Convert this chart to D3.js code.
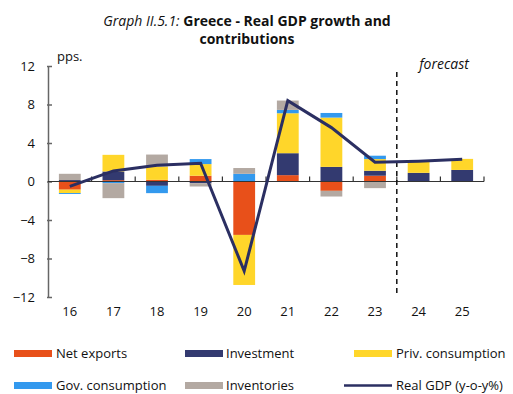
<!DOCTYPE html>
<html>
<head>
<meta charset="utf-8">
<script src="https://cdn.jsdelivr.net/npm/d3@7"></script>
<style>
  html, body { margin: 0; padding: 0; background: #fff; }
  svg { display: block; font-family: "Open Sans", sans-serif; }
</style>
</head>
<body>
<svg id="chart" width="513" height="394"></svg>
<script>
const years = ["16","17","18","19","20","21","22","23","24","25"];
const netExports  = [-0.85, 0.14, 0.17, 0.60, -5.55, 0.66, -0.97, 0.60, 0.00, 0.00];
const investment  = [ 0.15, 0.90, -0.45, -0.17, 0.00, 2.28, 1.52, 0.52, 0.90, 1.20];
const privCons    = [-0.35, 1.73, 1.38, 1.21, -5.20, 4.15, 5.12, 1.21, 1.15, 1.15];
const govCons     = [-0.10, -0.17, -0.76, 0.52, 0.80, 0.35, 0.48, 0.35, 0.00, 0.00];
const inventories = [ 0.65, -1.56, 1.25, -0.35, 0.60, 0.97, -0.59, -0.69, 0.00, 0.00];
const realGDP     = [-0.5, 1.1, 1.7, 1.9, -9.3, 8.4, 5.6, 2.0, 2.1, 2.3];
const yTicks = [-12, -8, -4, 0, 4, 8, 12];

const seriesKeys = ["Net exports","Investment","Priv. consumption","Gov. consumption","Inventories"];
const seriesVals = [netExports, investment, privCons, govCons, inventories];
const colors = ["#E8501A","#333A70","#FFD62A","#3399EE","#B3A9A2"];
const lineColor = "#2B2F62";

const rows = years.map((y,i) => {
  const o = {year: y};
  seriesKeys.forEach((k,j) => o[k] = seriesVals[j][i]);
  return o;
});

const svg = d3.select("#chart");
const x = d3.scaleBand().domain(years).range([48, 484]).padding(0);
const y = d3.scaleLinear().domain([-12, 12]).range([297, 66]);
const bw = x.bandwidth();

// Title
const title = svg.append("text").attr("x", 247).attr("y", 26)
  .attr("text-anchor", "middle").attr("font-size", 14).attr("fill", "#111");
title.append("tspan").attr("font-style", "italic").text("Graph II.5.1: ");
title.append("tspan").attr("font-weight", "bold").text("Greece - Real GDP growth and");
svg.append("text").attr("x", 247).attr("y", 44).attr("text-anchor", "middle")
  .attr("font-size", 14).attr("font-weight", "bold").attr("fill", "#111").text("contributions");

// Stacked bars
const stack = d3.stack().keys(seriesKeys).offset(d3.stackOffsetDiverging);
const stacked = stack(rows);
svg.append("g").selectAll("g").data(stacked).join("g")
  .attr("fill", (d,i) => colors[i])
  .selectAll("rect").data(d => d).join("rect")
  .attr("x", d => x(d.data.year) + bw * 0.25)
  .attr("width", bw * 0.5)
  .attr("y", d => y(Math.max(d[0], d[1])))
  .attr("height", d => Math.abs(y(d[0]) - y(d[1])));

// Y axis
const yAxis = svg.append("g").attr("transform", "translate(48,0)")
  .call(d3.axisLeft(y).tickValues(yTicks).tickSize(0).tickPadding(13));
yAxis.select(".domain").attr("stroke", "#666").attr("stroke-width", 1.5);
yAxis.selectAll(".tick text").attr("font-size", 13).attr("fill", "#111").attr("font-family", "Open Sans");
yAxis.selectAll(".tick").append("line").attr("x1", -1).attr("x2", 4).attr("stroke", "#666").attr("stroke-width", 1.5);

// Zero axis with upward ticks at category boundaries
const zeroG = svg.append("g").attr("transform", `translate(0,${y(0)})`);
zeroG.append("line").attr("x1", 48).attr("x2", 484).attr("stroke", "#333").attr("stroke-width", 1.2);
zeroG.selectAll("line.tk").data(years).join("line").attr("class", "tk")
  .attr("x1", d => x(d) + bw).attr("x2", d => x(d) + bw)
  .attr("y1", 0).attr("y2", -5).attr("stroke", "#333").attr("stroke-width", 1.2);

// X labels
const xAxis = svg.append("g").attr("transform", "translate(0,297)")
  .call(d3.axisBottom(x).tickSize(0).tickPadding(10));
xAxis.select(".domain").remove();
xAxis.selectAll(".tick text").attr("font-size", 13).attr("fill", "#111").attr("font-family", "Open Sans");

// Forecast divider
const xDiv = (x("23") + x("24") + bw) / 2;
svg.append("line").attr("x1", xDiv).attr("x2", xDiv).attr("y1", 72).attr("y2", 297)
  .attr("stroke", "#111").attr("stroke-width", 1.5).attr("stroke-dasharray", "5,4");
svg.append("text").attr("x", 444).attr("y", 69).attr("text-anchor", "middle")
  .attr("font-size", 14).attr("font-style", "italic").attr("fill", "#111").text("forecast");

// pps label
svg.append("text").attr("x", 57).attr("y", 61).attr("font-size", 13).attr("fill", "#111").text("pps.");

// GDP line
svg.append("path").datum(realGDP)
  .attr("fill", "none").attr("stroke", lineColor).attr("stroke-width", 3)
  .attr("stroke-linejoin", "miter")
  .attr("d", d3.line().x((d,i) => x(years[i]) + bw/2).y(d => y(d)));

// Legend
const legendItems = [
  {name: "Net exports", color: colors[0], type: "rect", sx: 14, tx: 56, row: 0},
  {name: "Investment", color: colors[1], type: "rect", sx: 185, tx: 226, row: 0},
  {name: "Priv. consumption", color: colors[2], type: "rect", sx: 354, tx: 396, row: 0},
  {name: "Gov. consumption", color: colors[3], type: "rect", sx: 14, tx: 56, row: 1},
  {name: "Inventories", color: colors[4], type: "rect", sx: 185, tx: 226, row: 1},
  {name: "Real GDP (y-o-y%)", color: lineColor, type: "line", sx: 344, tx: 396, row: 1}
];
const rowY = [353.5, 385.5];
const lg = svg.append("g");
legendItems.forEach(it => {
  const cy = rowY[it.row];
  if (it.type === "rect") {
    lg.append("rect").attr("x", it.sx).attr("y", cy - 3.5).attr("width", 38).attr("height", 7).attr("fill", it.color);
  } else {
    lg.append("line").attr("x1", it.sx).attr("x2", it.sx + 48).attr("y1", cy).attr("y2", cy)
      .attr("stroke", it.color).attr("stroke-width", 2.5);
  }
  lg.append("text").attr("x", it.tx).attr("y", cy + 4.5).attr("font-size", 13).attr("fill", "#111").text(it.name);
});
</script>
</body>
</html>
